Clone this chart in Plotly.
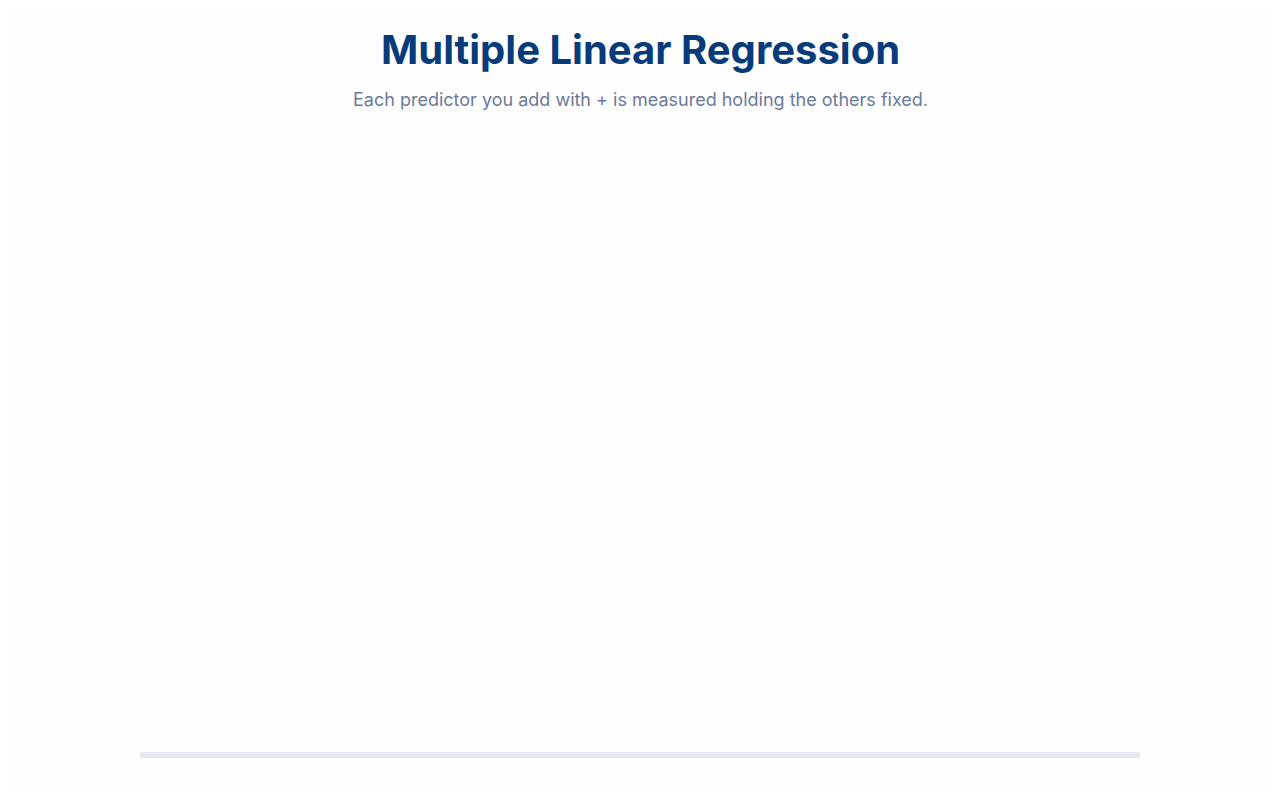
import plotly.graph_objects as go

# axis ticks (labels are white on an almost white page)
bmi_ticks = [25, 30, 35, 40]
hba1c_ticks = [5, 6, 7, 8]
bmi_range = [23.9, 44.4]
hba1c_range = [4.72, 8.27]

# no visible points in the reference, so the series are empty
bmi_values = []
hba1c_values = []

title_text = "<b>Multiple Linear Regression</b>"
subtitle_text = "Each predictor you add with + is measured holding the others fixed."

bg = '#fefefe'

fig = go.Figure()
fig.add_trace(go.Scatter(x=bmi_values, y=hba1c_values,
                         mode='markers',
                         marker=dict(color='white', size=8),
                         showlegend=False))

# page body adds 8px, so the figure is 16px smaller than the window
fig.update_layout(
    width=1264, height=784,
    paper_bgcolor=bg,
    plot_bgcolor=bg,
    margin=dict(l=172, r=446, t=192, b=177),
    font=dict(family='Inter, Lato, sans-serif', color='#ffffff', size=13),
    showlegend=False,
    xaxis=dict(range=bmi_range, tickvals=bmi_ticks, showgrid=False,
               zeroline=False, showline=False,
               tickfont=dict(color='#ffffff', size=13)),
    yaxis=dict(range=hba1c_range, tickvals=hba1c_ticks, showgrid=False,
               zeroline=False, showline=False,
               tickfont=dict(color='#ffffff', size=13)),
)

# title, subtitle and axis titles as annotations so they sit where the reference has them
fig.add_annotation(text=title_text, xref='paper', yref='paper',
                   x=(640 - 180) / 646, y=(615 - 50) / 415,
                   showarrow=False, xanchor='center', yanchor='middle',
                   font=dict(family='Inter, Lato, sans-serif', size=40, color='#073b7a'))
fig.add_annotation(text=subtitle_text, xref='paper', yref='paper',
                   x=(640 - 180) / 646, y=(615 - 100) / 415,
                   showarrow=False, xanchor='center', yanchor='middle',
                   font=dict(family='Inter, Lato, sans-serif', size=18, color='#6b7a99'))
fig.add_annotation(text='<b>HbA1c (%)</b>', xref='paper', yref='paper',
                   x=(185 - 180) / 646, y=(615 - 185) / 415,
                   showarrow=False, xanchor='left', yanchor='middle',
                   font=dict(size=15, color='#ffffff'))
fig.add_annotation(text='<b>BMI (kg/m²)</b>', xref='paper', yref='paper',
                   x=(503 - 180) / 646, y=(615 - 661) / 415,
                   showarrow=False, xanchor='center', yanchor='middle',
                   font=dict(size=15, color='#ffffff'))

# thin rounded progress track under the chart
fig.add_shape(type='rect', xref='paper', yref='paper',
              x0=(140 - 180) / 646, x1=(1140 - 180) / 646,
              y0=(615 - 758) / 415, y1=(615 - 752) / 415,
              fillcolor='#e5e9f2', line=dict(width=0), layer='below')

fig.write_html("out.html")
